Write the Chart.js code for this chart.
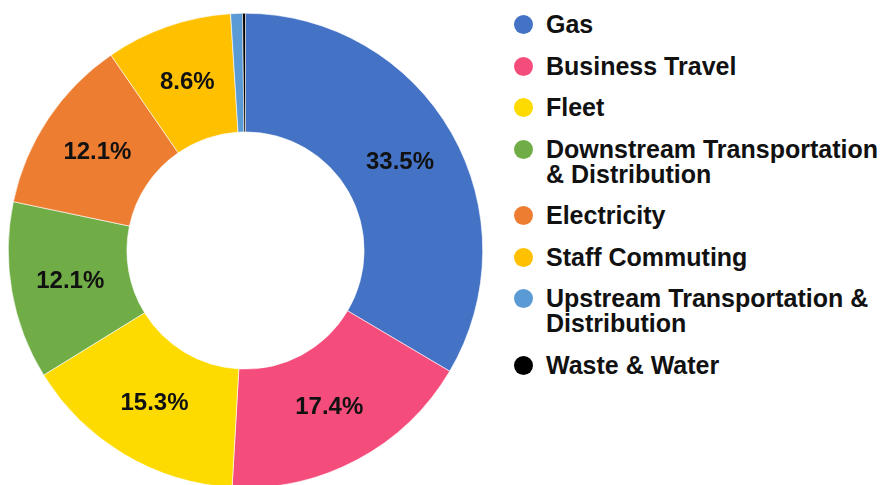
<!DOCTYPE html>
<html>
<head>
<meta charset="utf-8">
<script src="https://cdn.jsdelivr.net/npm/chart.js@4"></script>
<style>
  html, body { margin: 0; padding: 0; background: #fff; }
  body { width: 886px; height: 485px; overflow: hidden; position: relative; font-family: "Liberation Sans", Arial, sans-serif; }
  #chartBox { position: absolute; left: 8px; top: 13px; width: 475px; height: 475px; }
  #legend { position: absolute; left: 514px; top: 12px; }
  .item { display: flex; align-items: flex-start; margin-bottom: 16.5px; }
  .dot { width: 19px; height: 19px; border-radius: 50%; margin-top: 3px; margin-right: 13px; flex: none; }
  .txt { font-weight: bold; font-size: 25px; line-height: 25px; color: #111; white-space: nowrap; }
</style>
</head>
<body>
<div id="chartBox"><canvas id="donut"></canvas></div>
<div id="legend"></div>
<script>
const labels = [
  'Gas',
  'Business Travel',
  'Fleet',
  ['Downstream Transportation', '& Distribution'],
  'Electricity',
  'Staff Commuting',
  ['Upstream Transportation &', 'Distribution'],
  'Waste & Water'
];
const shares = [33.5, 17.4, 15.3, 12.1, 12.1, 8.6, 0.8, 0.2];
const colors = ['#4472C4', '#F54D7B', '#FEDB00', '#70AD47', '#ED7D31', '#FFC000', '#5B9BD5', '#000000'];

// percent labels drawn at the middle of each big slice
const sliceLabels = {
  id: 'sliceLabels',
  afterDatasetsDraw(chart) {
    const c = chart.ctx;
    const meta = chart.getDatasetMeta(0);
    c.save();
    c.font = 'bold 24px "Liberation Sans", Arial, sans-serif';
    c.fillStyle = '#111';
    c.textAlign = 'center';
    c.textBaseline = 'middle';
    meta.data.forEach((arc, i) => {
      if (shares[i] < 5) return;
      const p = arc.tooltipPosition();
      c.fillText(shares[i].toFixed(1) + '%', p.x, p.y);
    });
    c.restore();
  }
};

new Chart(document.getElementById('donut'), {
  type: 'doughnut',
  data: {
    labels: labels,
    datasets: [{
      data: shares,
      backgroundColor: colors,
      borderColor: '#ffffff',
      borderWidth: 0.6
    }]
  },
  options: {
    responsive: true,
    maintainAspectRatio: false,
    animation: false,
    cutout: '50%',
    plugins: {
      legend: { display: false },
      tooltip: { enabled: false }
    }
  },
  plugins: [sliceLabels]
});

// html legend from the same arrays
const legendEl = document.getElementById('legend');
labels.forEach((lab, i) => {
  const row = document.createElement('div');
  row.className = 'item';
  const dot = document.createElement('span');
  dot.className = 'dot';
  dot.style.background = colors[i];
  const txt = document.createElement('span');
  txt.className = 'txt';
  txt.innerHTML = [].concat(lab).map(s => s.replace(/&/g, '&amp;')).join('<br>');
  row.appendChild(dot);
  row.appendChild(txt);
  legendEl.appendChild(row);
});
</script>
</body>
</html>
